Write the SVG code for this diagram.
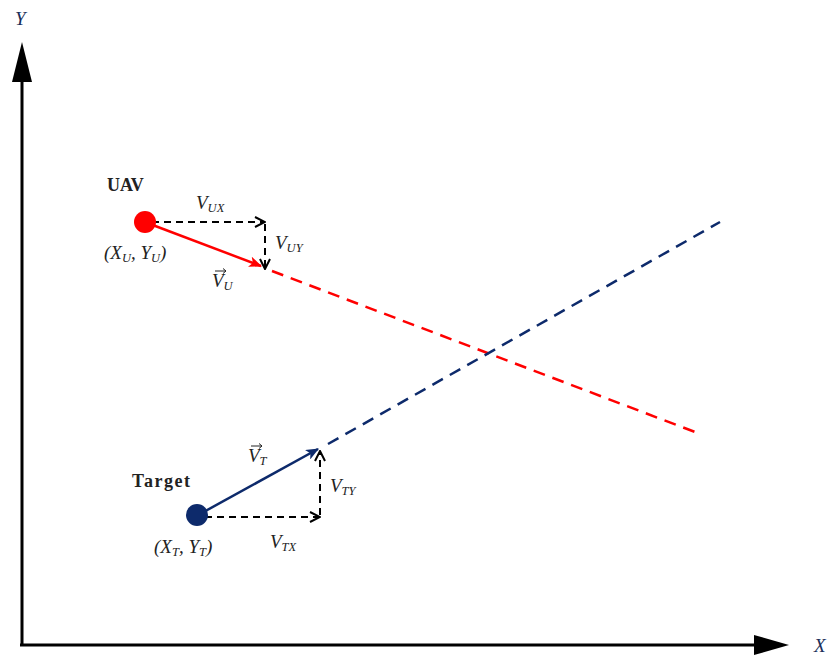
<svg xmlns="http://www.w3.org/2000/svg" width="834" height="659" viewBox="0 0 834 659">
<style>
.lbl{font-family:"Liberation Serif",serif;font-style:italic;font-size:19px;fill:#222}
.sub{font-size:12.5px}
.bold{font-family:"Liberation Serif",serif;font-weight:bold;font-size:18px;fill:#222}
.comp{stroke:#000;stroke-width:2;stroke-dasharray:7 5;fill:none}
</style>
<defs>
<marker id="chev" viewBox="0 0 12 12" refX="11" refY="6" markerWidth="12" markerHeight="12" markerUnits="userSpaceOnUse" orient="auto">
<path d="M1,1 L11,6 L1,11" fill="none" stroke="#000" stroke-width="2"/>
</marker>
<marker id="redHead" viewBox="0 0 12 10" refX="11" refY="5" markerWidth="13" markerHeight="11" markerUnits="userSpaceOnUse" orient="auto">
<path d="M0,0 L12,5 L0,10 L3,5 Z" fill="#f00"/>
</marker>
<marker id="navyHead" viewBox="0 0 12 10" refX="11" refY="5" markerWidth="13" markerHeight="11" markerUnits="userSpaceOnUse" orient="auto">
<path d="M0,0 L12,5 L0,10 L3,5 Z" fill="#0d2a6b"/>
</marker>
</defs>
<rect width="834" height="659" fill="#fff"/>
<g id="axes">
<line x1="22" y1="645" x2="22" y2="80" stroke="#000" stroke-width="3"/>
<polygon points="22,42 12,82 32,82" fill="#000"/>
<line x1="20" y1="645" x2="758" y2="645" stroke="#000" stroke-width="3"/>
<polygon points="789,645 754,635 754,655" fill="#000"/>
<text class="lbl" x="15" y="25" style="fill:#1a2f5a">Y</text>
<text class="lbl" x="814" y="652" style="fill:#1a2f5a">X</text>
</g>
<g id="connectors">
<line x1="150" y1="224" x2="261" y2="266" stroke="#f00" stroke-width="2.5" marker-end="url(#redHead)"/>
<line x1="272" y1="271" x2="695" y2="432" stroke="#f00" stroke-width="2.5" stroke-dasharray="12 8"/>
<line x1="200" y1="514" x2="318" y2="449" stroke="#0d2a6b" stroke-width="2.5" marker-end="url(#navyHead)"/>
<line x1="328" y1="444" x2="720" y2="222" stroke="#0d2a6b" stroke-width="2.5" stroke-dasharray="12 8"/>
<line class="comp" x1="152" y1="222" x2="265" y2="222" marker-end="url(#chev)"/>
<line class="comp" x1="265" y1="224" x2="265" y2="269" marker-end="url(#chev)"/>
<line class="comp" x1="205" y1="517" x2="320" y2="517" marker-end="url(#chev)"/>
<line class="comp" x1="320" y1="515" x2="320" y2="451" marker-end="url(#chev)"/>
</g>
<g id="uav">
<circle cx="145" cy="222" r="11" fill="#f00"/>
<text class="bold" x="107" y="191">UAV</text>
<text class="lbl" x="104" y="259">(X<tspan class="sub" dy="3">U</tspan><tspan dy="-3">, Y</tspan><tspan class="sub" dy="3">U</tspan><tspan dy="-3">)</tspan></text>
<text class="lbl" x="196" y="209">V<tspan class="sub" dy="3">UX</tspan></text>
<text class="lbl" x="275" y="249">V<tspan class="sub" dy="3">UY</tspan></text>
<text class="lbl" x="212" y="287">V<tspan class="sub" dy="3">U</tspan></text>
<path d="M215,271 L226,271 M223,268.5 L226,271 L223,273.5" stroke="#222" stroke-width="1" fill="none"/>
</g>
<g id="target">
<circle cx="197" cy="515" r="11" fill="#0d2a6b"/>
<text class="bold" x="132" y="487" textLength="58" lengthAdjust="spacing">Target</text>
<text class="lbl" x="154" y="553">(X<tspan class="sub" dy="3">T</tspan><tspan dy="-3">, Y</tspan><tspan class="sub" dy="3">T</tspan><tspan dy="-3">)</tspan></text>
<text class="lbl" x="270" y="548">V<tspan class="sub" dy="3">TX</tspan></text>
<text class="lbl" x="330" y="492">V<tspan class="sub" dy="3">TY</tspan></text>
<text class="lbl" x="248" y="462">V<tspan class="sub" dy="3">T</tspan></text>
<path d="M251,446 L262,446 M259,443.5 L262,446 L259,448.5" stroke="#222" stroke-width="1" fill="none"/>
</g>
</svg>
